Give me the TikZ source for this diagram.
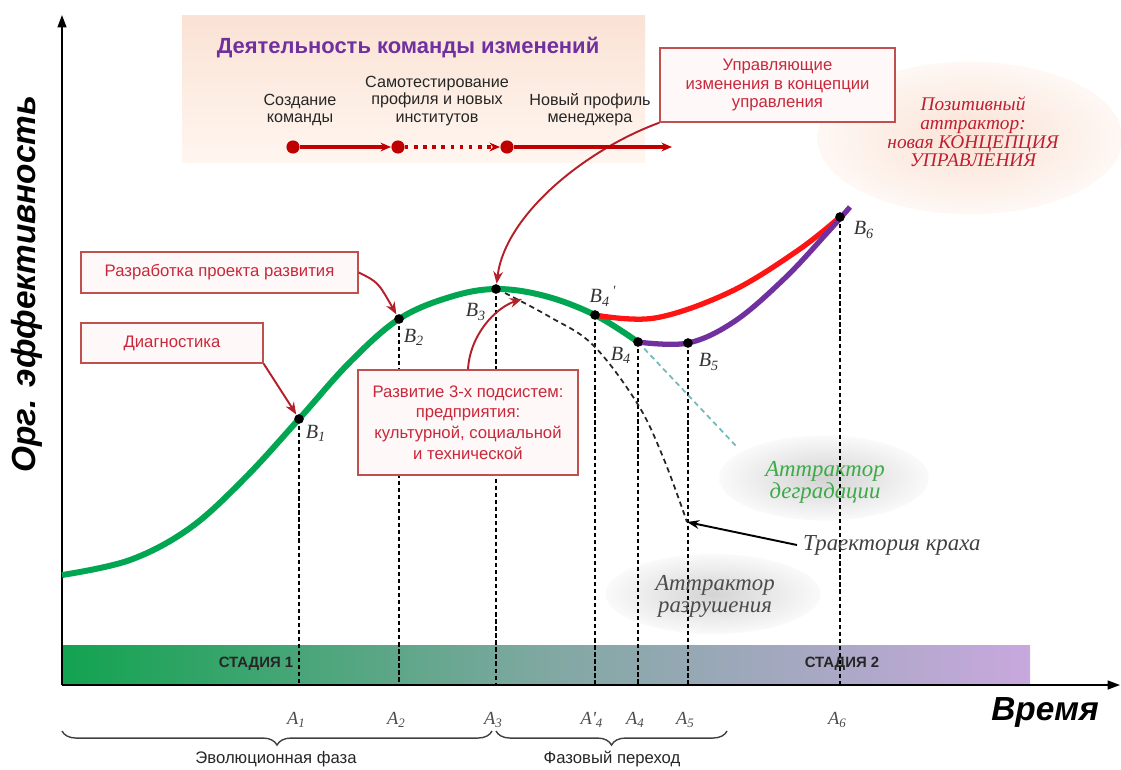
\documentclass[tikz,border=0pt]{standalone}
\usepackage{fontspec}
\setmainfont{Liberation Sans}
\newfontfamily\tms{Liberation Serif}
\usetikzlibrary{shapes.geometric,arrows.meta,decorations.pathreplacing}

\begin{document}
\begin{tikzpicture}[x=0.02cm,y=-0.02cm,
  redbox/.style={draw=boxred,fill=boxfill,line width=0.8pt,text=boxtext,align=center,font=\fontsize{9.5}{11.5}\selectfont},
  callout/.style={draw=arrred,line width=1.1pt,-{Stealth[length=7pt,width=5.5pt]}},
  tline/.style={draw=linered,line width=1.8pt,-{Stealth[length=6pt,width=5pt]}},
  tdot/.style={circle,fill=linered,inner sep=0pt,minimum size=7.5pt},
  bdot/.style={circle,fill=black,inner sep=0pt,minimum size=5.5pt},
  vline/.style={black,line width=1.1pt,dash pattern=on 2.4pt off 1.6pt},
  crash/.style={black!85,line width=1pt,dash pattern=on 3pt off 2.2pt},
  stext/.style={font=\fontsize{9.2}{9.8}\selectfont,align=center,text=black!85},
  bname/.style={font=\tms\itshape\fontsize{11.5}{11.5}\selectfont,text=black!80},
  aname/.style={font=\tms\itshape\fontsize{10.5}{10.5}\selectfont,text=black!70},
  itext/.style={font=\tms\itshape\fontsize{13}{12.5}\selectfont,align=center},
  attr/.style={ellipse,shading=radial,inner color=black!17,outer color=black!2}]
\definecolor{boxred}{HTML}{C0504D}
\definecolor{boxfill}{HTML}{FFF8F8}
\definecolor{boxtext}{HTML}{C8283A}
\definecolor{arrred}{HTML}{B4202A}
\definecolor{linered}{HTML}{C00000}
\definecolor{titlepurple}{HTML}{7030A0}
\definecolor{curvegreen}{HTML}{00A651}
\definecolor{curvered}{HTML}{FF1414}
\definecolor{curvepurple}{HTML}{7030A0}
\definecolor{stagegreen}{HTML}{12A350}
\definecolor{stagemid}{HTML}{80A8A2}
\definecolor{stagepurple}{HTML}{C8A8DE}
\definecolor{peach}{HTML}{FAE2D4}
\definecolor{peachlight}{HTML}{FFF6F0}
\definecolor{postext}{HTML}{BE1E32}
\definecolor{degrgreen}{HTML}{3CAA46}
\useasboundingbox (0,0) rectangle (1121,769);

% background panels
\shade[top color=peach,bottom color=peachlight] (182,15) rectangle (645,162);
\node[ellipse,shading=radial,inner color=peach,outer color=peach!25,minimum width=6.1cm,minimum height=3.05cm] (posell) at (970,138) {};
\node[attr,minimum width=4.2cm,minimum height=1.7cm] (degr) at (824,478) {};
\node[attr,minimum width=4.3cm,minimum height=1.6cm] (destr) at (713,594) {};
\shade[left color=stagegreen,right color=stagepurple,middle color=stagemid] (62,645) rectangle (1030,685);

% axes
\coordinate (O) at (62,685);
\coordinate (ytop) at (62,15);
\coordinate (xend) at (1120,685);
\draw[line width=1pt,-{Triangle[length=7pt,width=5pt]}] (O) -- (ytop);
\draw[line width=1pt,-{Triangle[length=7pt,width=5pt]}] (O) -- (xend);

% points on the curve
\coordinate (B1) at (299,419);
\coordinate (B2) at (399,319);
\coordinate (B3) at (496,289);
\coordinate (B4s) at (595,315);
\coordinate (B4) at (638,342);
\coordinate (B5) at (688,343);
\coordinate (B6) at (840,217);
\coordinate (B3r) at (522,299);
\coordinate (crashend) at (687,522);
\coordinate (degrend) at (737,447);

\foreach \b in {B1,B2,B3,B4s,B4,B5,B6}
  \draw[vline] (\b) -- (\b |- O);

% trajectories
\draw[crash] plot[smooth,tension=0.6] coordinates {(505,293) (550,317) (593,345) (637,403) (663,457) (crashend)};
\draw[line width=1pt,draw=teal!55,dash pattern=on 3pt off 2.2pt] (B4) -- (degrend);
\draw[line width=3.4pt,curvegreen] plot[smooth,tension=0.6] coordinates {(62,575) (130,560) (190,528) (245,478) (B1) (350,362) (B2) (450,297) (B3) (545,296) (B4s) (B4)};
\draw[line width=3pt,curvered] plot[smooth,tension=0.6] coordinates {(B4s) (655,318) (730,292) (797,251) (B6)};
\draw[line width=3pt,curvepurple] plot[smooth,tension=0.6] coordinates {(B4) (B5) (735,321) (785,278) (827,233) (850,207)};
\foreach \b in {B1,B2,B3,B4s,B4,B5,B6}
  \node[bdot] (d\b) at (\b) {};

% boxes with callouts
\node[redbox,minimum width=3.64cm,minimum height=0.8cm] (diag) at (172,343) {Диагностика};
\node[redbox,minimum width=5.54cm,minimum height=0.82cm] (plan) at (219.5,272.5) {Разработка проекта развития};
\node[redbox,minimum width=4.4cm,minimum height=2.1cm,font=\fontsize{9.5}{11.8}\selectfont] (dev) at (468,422.5) {Развитие 3-х подсистем:\\предприятия:\\культурной, социальной\\и технической};
\node[redbox,minimum width=4.7cm,minimum height=1.48cm,font=\fontsize{9.5}{10.4}\selectfont] (mgmt) at (777.5,85) {Управляющие\\изменения в концепции\\управления};
\draw[callout,shorten >=3pt] (diag.south east) .. controls (278,385) .. (B1);
\draw[callout,shorten >=3pt] (plan.east) .. controls (378,282) .. (B2);
\draw[callout] (dev.north) .. controls (470,335) and (495,308) .. (B3r);
\draw[callout,shorten >=3pt] (mgmt.south west) .. controls (585,150) and (505,215) .. (B3);

% team activity
\node[font=\bfseries\fontsize{12.5}{14}\selectfont,text=titlepurple] (title) at (408,48) {Деятельность команды изменений};
\node[tdot] (t1) at (293,147) {};
\node[tdot] (t2) at (398,147) {};
\node[tdot] (t3) at (507,147) {};
\coordinate (tend) at (672,147);
\draw[tline] (t1) -- (t2);
\draw[tline,dash pattern=on 2pt off 3.2pt] (t2) -- (t3);
\draw[tline] (t3) -- (tend);
\node[stext] (lab1) at (300,110) {Создание\\команды};
\node[stext] (lab2) at (437,101) {Самотестирование\\профиля и новых\\институтов};
\node[stext] (lab3) at (590,110) {Новый профиль\\менеджера};

% attractors
\node[itext,font=\tms\itshape\fontsize{11}{10.6}\selectfont,text=postext] (postxt) at (973,132) {Позитивный\\аттрактор:\\новая КОНЦЕПЦИЯ\\УПРАВЛЕНИЯ};
\node[itext,text=degrgreen] (degrtxt) at (825,482) {Аттрактор\\деградации};
\node[itext,text=black!70] (destrtxt) at (715,596) {Аттрактор\\разрушения};
\node[itext,anchor=west,text=black!75] (traj) at (797,545) {Траектория краха};
\draw[line width=1.1pt,-{Stealth[length=7pt,width=5pt]}] (traj.west) -- (crashend);

% point names
\node[bname] (nB1) at (316,433) {B\textsubscript{1}};
\node[bname] (nB2) at (414,337) {B\textsubscript{2}};
\node[bname] (nB3) at (476,312) {B\textsubscript{3}};
\node[bname] (nB4s) at (603,296) {B\textsubscript{4}\textsuperscript{\,'}};
\node[bname] (nB4) at (621,355) {B\textsubscript{4}};
\node[bname] (nB5) at (709,362) {B\textsubscript{5}};
\node[bname] (nB6) at (864,230) {B\textsubscript{6}};

% time marks
\coordinate (alev) at (0,720);
\foreach \b/\n in {B1/1,B2/2,B3/3,B4/4,B5/5,B6/6}
  \node[aname,xshift=-1.5pt] (a\n) at (\b |- alev) {A\textsubscript{\n}};
\node[aname] (a4s) at (592,720) {A'\textsubscript{4}};

% stages and phases
\node[font=\bfseries\fontsize{8.5}{9}\selectfont,text=black!85] (st1) at (256,664) {СТАДИЯ 1};
\node[font=\bfseries\fontsize{8.5}{9}\selectfont,text=black!85] (st2) at (842,664) {СТАДИЯ 2};
\node[font=\bfseries\itshape\fontsize{19}{21}\selectfont] (ttl) at (1045,712) {Время};
\node[font=\bfseries\itshape\fontsize{19}{21}\selectfont,rotate=90] (eff) at (27,284) {Орг. эффективность};
\draw[black!75,line width=0.8pt,decorate,decoration={brace,mirror,amplitude=8pt}] (62,731) -- (492,731);
\draw[black!75,line width=0.8pt,decorate,decoration={brace,mirror,amplitude=8pt}] (496,731) -- (727,731);
\node[font=\fontsize{9.5}{10}\selectfont,text=black!85] (ph1) at (276,759) {Эволюционная фаза};
\node[font=\fontsize{9.5}{10}\selectfont,text=black!85] (ph2) at (612,759) {Фазовый переход};
\end{tikzpicture}
\end{document}
